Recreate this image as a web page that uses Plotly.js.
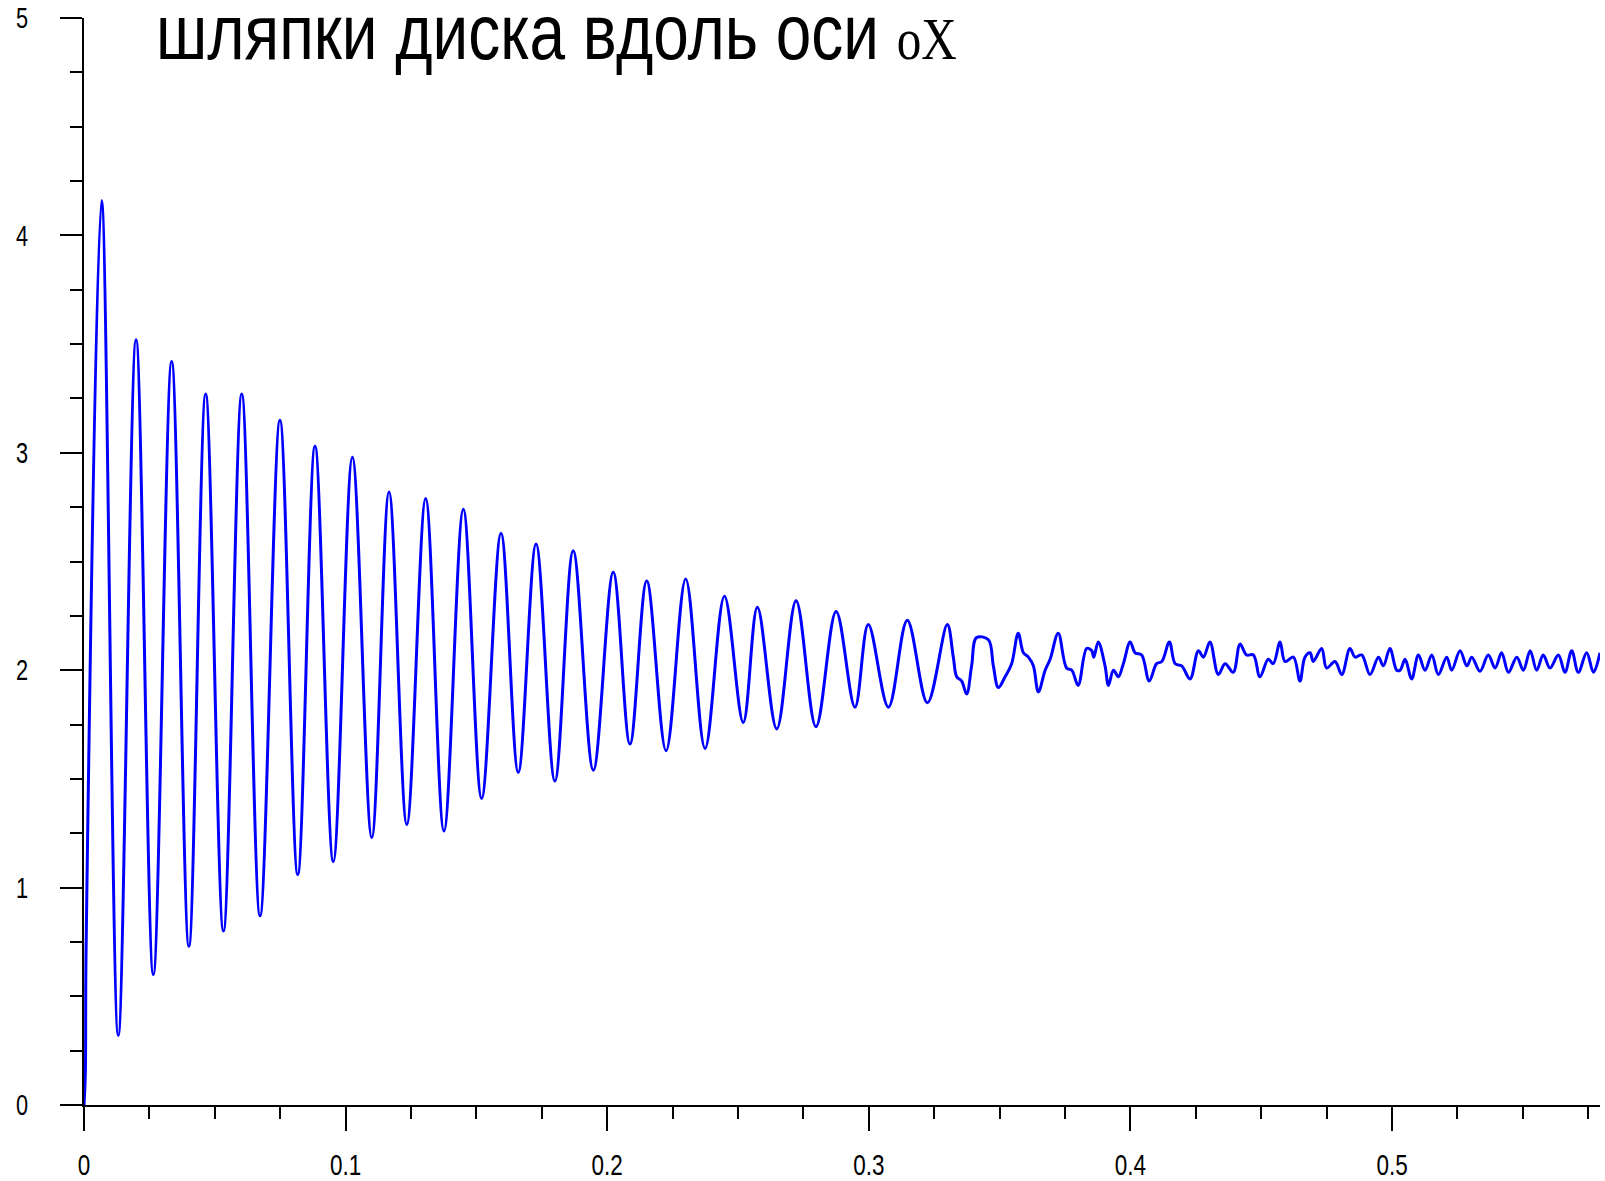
<!DOCTYPE html>
<html>
<head>
<meta charset="utf-8">
<script src="https://cdn.plot.ly/plotly-3.0.1.min.js"></script>
<style>
  html, body { margin: 0; padding: 0; background: #fff; }
  #chart { width: 1605px; height: 1181px; }
</style>
</head>
<body>
<div id="chart"></div>
<script>
// Time (x) and displacement (y) (extrema and visible steps)
const timeValues = [
  0, 0.0005, 0.0008, 0.0067, 0.0131, 0.0199, 0.0265, 0.0335, 0.0401, 0.0465,
  0.0533, 0.0603, 0.0673, 0.0749, 0.0817, 0.0883, 0.0953, 0.1026, 0.1100, 0.1166,
  0.1234, 0.1306, 0.1376, 0.1450, 0.1520, 0.1594, 0.1660, 0.1728, 0.1800, 0.1870,
  0.1947, 0.2023, 0.2087, 0.2151, 0.2225, 0.2300, 0.2374, 0.2448, 0.2520, 0.2574,
  0.2648, 0.2722, 0.2798, 0.2875, 0.2947, 0.2998, 0.3075, 0.3147, 0.3224, 0.3300,
  0.3323, 0.3336, 0.3355, 0.3374, 0.3393, 0.3412, 0.3457, 0.3476, 0.3495, 0.3521,
  0.3546, 0.3571, 0.3591, 0.3610, 0.3629, 0.3648, 0.3674, 0.3693, 0.3724, 0.3756,
  0.3776, 0.3800, 0.3833, 0.3852, 0.3860, 0.3877, 0.3903, 0.3916, 0.3935, 0.3954,
  0.3973, 0.3999, 0.4018, 0.4043, 0.4072, 0.4100, 0.4120, 0.4149, 0.4171, 0.4196,
  0.4228, 0.4260, 0.4279, 0.4304, 0.4336, 0.4362, 0.4393, 0.4419, 0.4444, 0.4470,
  0.4495, 0.4527, 0.4546, 0.4572, 0.4591, 0.4623, 0.4648, 0.4667, 0.4687, 0.4699,
  0.4731, 0.4750, 0.4782, 0.4808, 0.4839, 0.4859, 0.4884, 0.4916, 0.4948, 0.4967,
  0.4992, 0.5018, 0.5031, 0.5050, 0.5075, 0.5101, 0.5126, 0.5152, 0.5177, 0.5209,
  0.5228, 0.5260, 0.5286, 0.5305, 0.5336, 0.5368, 0.5394, 0.5419, 0.5445, 0.5477,
  0.5502, 0.5528, 0.5553, 0.5578, 0.5604, 0.5636, 0.5661, 0.5687, 0.5712, 0.5744,
  0.5770, 0.5795
];
const displacement = [
  0, 0.14, 0.72, 4.16, 0.32, 3.52, 0.60, 3.42, 0.73, 3.27,
  0.80, 3.27, 0.87, 3.15, 1.06, 3.03, 1.12, 2.98, 1.23, 2.82,
  1.29, 2.79, 1.26, 2.74, 1.41, 2.63, 1.53, 2.58, 1.49, 2.55,
  1.54, 2.45, 1.66, 2.41, 1.63, 2.42, 1.64, 2.34, 1.76, 2.29,
  1.73, 2.32, 1.74, 2.27, 1.83, 2.21, 1.83, 2.23, 1.85, 2.21,
  2.06, 1.97, 1.95, 1.89, 2.02, 2.15, 2.14, 2.02, 1.92, 1.97,
  2.03, 2.17, 2.08, 2.06, 2.02, 1.90, 2.00, 2.05, 2.17, 2.01,
  2.00, 1.93, 2.10, 2.09, 2.06, 2.13, 2.02, 1.93, 2.00, 1.97,
  2.03, 2.13, 2.08, 2.07, 1.95, 2.03, 2.04, 2.13, 2.03, 2.02,
  1.96, 2.09, 2.06, 2.13, 1.98, 2.03, 1.99, 2.12, 2.07, 2.07,
  1.97, 2.05, 2.03, 2.13, 2.04, 2.06, 1.95, 2.06, 2.08, 2.04,
  2.10, 2.01, 2.04, 1.98, 2.10, 2.06, 2.07, 1.98, 2.06, 2.02,
  2.10, 2.00, 2.00, 2.05, 1.96, 2.07, 2.00, 2.07, 1.98, 2.06,
  2.00, 2.09, 2.02, 2.06, 1.995, 2.07, 2.01, 2.08, 1.99, 2.06,
  2.00, 2.09, 2.00, 2.07, 2.01, 2.07, 1.99, 2.09, 1.99, 2.08,
  1.99, 2.08
];
const xTickVals = [0, 0.1, 0.2, 0.3, 0.4, 0.5];
const xTickText = ['0', '0.1', '0.2', '0.3', '0.4', '0.5'];
const yTickVals = [0, 1, 2, 3, 4, 5];
const yTickText = ['0', '1', '2', '3', '4', '5'];
const titleMain = 'шляпки диска вдоль оси ';
const titleTail = 'oX';

const sans = "'Liberation Sans', Arial, sans-serif";

const trace = {
  x: timeValues,
  y: displacement,
  type: 'scatter',
  mode: 'lines',
  line: { color: '#0000FF', width: 3, shape: 'spline', smoothing: 1 },
  hoverinfo: 'skip'
};

const layout = {
  width: 1605,
  height: 1181,
  margin: { l: 84, r: 5, t: 18, b: 76, pad: 0 },
  paper_bgcolor: '#ffffff',
  plot_bgcolor: '#ffffff',
  showlegend: false,
  title: {
    text: titleMain + '<span style="font-family:\'Liberation Serif\', serif; font-size:60px">' + titleTail + '</span>',
    font: { family: sans, size: 78, color: '#000000' },
    xref: 'container', yref: 'container',
    x: 156 / 1605, xanchor: 'left',
    y: 1 - 4 / 1181, yanchor: 'top'
  },
  xaxis: {
    range: [0, 0.5795],
    showgrid: false, zeroline: false,
    showline: true, linecolor: '#000000', linewidth: 2,
    ticks: 'outside', ticklen: 24, tickwidth: 2, tickcolor: '#000000',
    tickmode: 'array', tickvals: xTickVals, ticktext: xTickText,
    ticklabelstandoff: 8,
    minor: { dtick: 0.025, tick0: 0, ticks: 'outside', ticklen: 12, tickwidth: 2, tickcolor: '#000000', showgrid: false },
    tickfont: { family: sans, size: 30, color: '#000000' }
  },
  yaxis: {
    range: [0, 5],
    showgrid: false, zeroline: false,
    showline: true, linecolor: '#000000', linewidth: 2,
    ticks: 'outside', ticklen: 22, tickwidth: 2, tickcolor: '#000000',
    tickmode: 'array', tickvals: yTickVals, ticktext: yTickText,
    ticklabelstandoff: 26,
    minor: { dtick: 0.25, tick0: 0, ticks: 'outside', ticklen: 12, tickwidth: 2, tickcolor: '#000000', showgrid: false },
    tickfont: { family: sans, size: 29, color: '#000000' }
  }
};

// Horizontally compress a text element around its anchor x (the reference text is narrow)
function squeeze(el, s) {
  const x = parseFloat(el.getAttribute('x')) || 0;
  const t = el.getAttribute('transform') || '';
  el.setAttribute('transform', t + ' translate(' + x + ',0) scale(' + s + ',1) translate(' + (-x) + ',0)');
}

Plotly.newPlot('chart', [trace], layout, { displayModeBar: false, staticPlot: true }).then(function (gd) {
  gd.querySelectorAll('.xtick text, .ytick text').forEach(function (el) { squeeze(el, 0.75); });
  const title = gd.querySelector('.gtitle');
  if (title) {
    const w = title.getBBox().width;
    if (w > 0) squeeze(title, 801 / w);
  }
});
</script>
</body>
</html>
